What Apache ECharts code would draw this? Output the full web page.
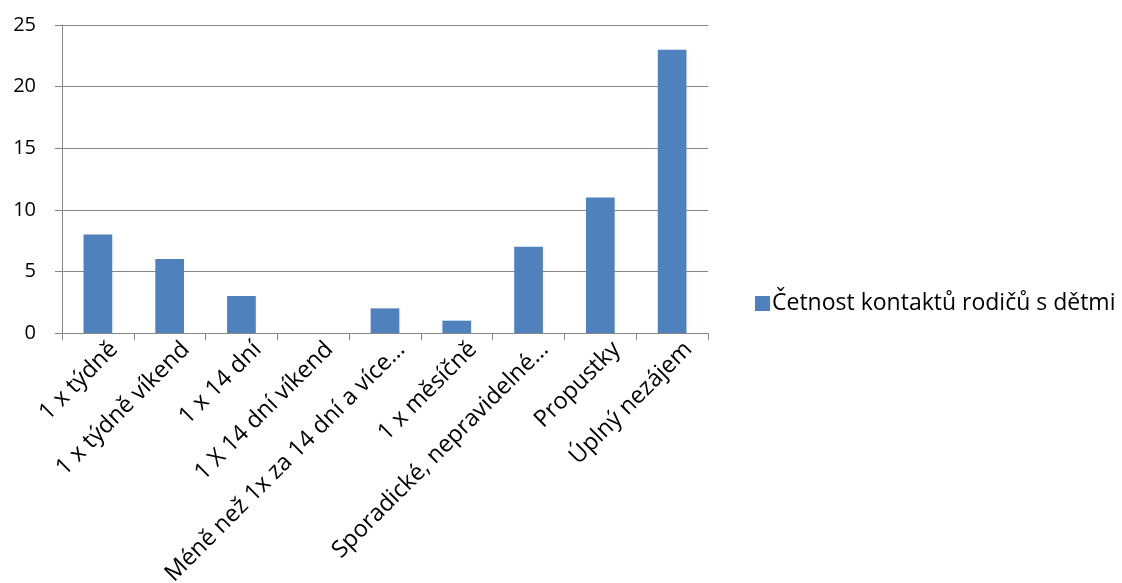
<!DOCTYPE html>
<html>
<head>
<meta charset="utf-8">
<script src="https://cdn.jsdelivr.net/npm/echarts@6/dist/echarts.min.js"></script>
<style>
  html, body { margin: 0; padding: 0; background: #fff; }
  #chart { width: 1122px; height: 583px; }
</style>
</head>
<body>
<div id="chart"></div>
<script>
// Frequency of parent–child contact
const categories = [
  '1 x týdně',
  '1 x týdně víkend',
  '1 x 14 dní',
  '1 X 14 dní víkend',
  'Méně než 1x za 14 dní a více…',
  '1 x měsíčně',
  'Sporadické, nepravidelné…',
  'Propustky',
  'Úplný nezájem'
];
const seriesName = 'Četnost kontaktů rodičů s dětmi';
const counts = [8, 6, 3, 0, 2, 1, 7, 11, 23];
const yTicks = { min: 0, max: 25, step: 5 };

const axisGrey = '#868686';
const fontFamily = '"Open Sans", "Noto Sans", sans-serif';

const chart = echarts.init(document.getElementById('chart'), null, { renderer: 'canvas' });
chart.setOption({
  animation: false,
  grid: {
    left: 62, right: 414, top: 25, bottom: 250,
    containLabel: false,
    outerBoundsMode: 'none'
  },
  legend: {
    data: [seriesName],
    orient: 'vertical',
    left: 750,
    top: 287,
    icon: 'rect',
    itemWidth: 15,
    itemHeight: 15,
    itemGap: 0,
    textStyle: { fontFamily, fontSize: 23, color: '#000', padding: [0, 0, 0, -3] }
  },
  xAxis: {
    type: 'category',
    data: categories,
    axisLine: { lineStyle: { color: axisGrey, width: 1 } },
    axisTick: { show: true, alignWithLabel: false, length: 7, lineStyle: { color: axisGrey } },
    axisLabel: {
      rotate: 45,
      interval: 0,
      fontFamily,
      fontSize: 23.5,
      color: '#000',
      margin: 29,
      // labels sit slightly past the category centre, as the rotated text is anchored by its corner
      padding: [0, -23, 0, 0]
    }
  },
  yAxis: {
    type: 'value',
    min: yTicks.min,
    max: yTicks.max,
    interval: yTicks.step,
    axisLine: { show: true, lineStyle: { color: axisGrey, width: 1 } },
    axisTick: { show: true, length: 7, lineStyle: { color: axisGrey } },
    splitLine: { lineStyle: { color: axisGrey, width: 1 } },
    axisLabel: { fontFamily, fontSize: 20, color: '#000', margin: 26 }
  },
  series: [{
    name: seriesName,
    type: 'bar',
    data: counts,
    barWidth: '40%',
    itemStyle: { color: '#4F81BD' }
  }]
});
</script>
</body>
</html>
